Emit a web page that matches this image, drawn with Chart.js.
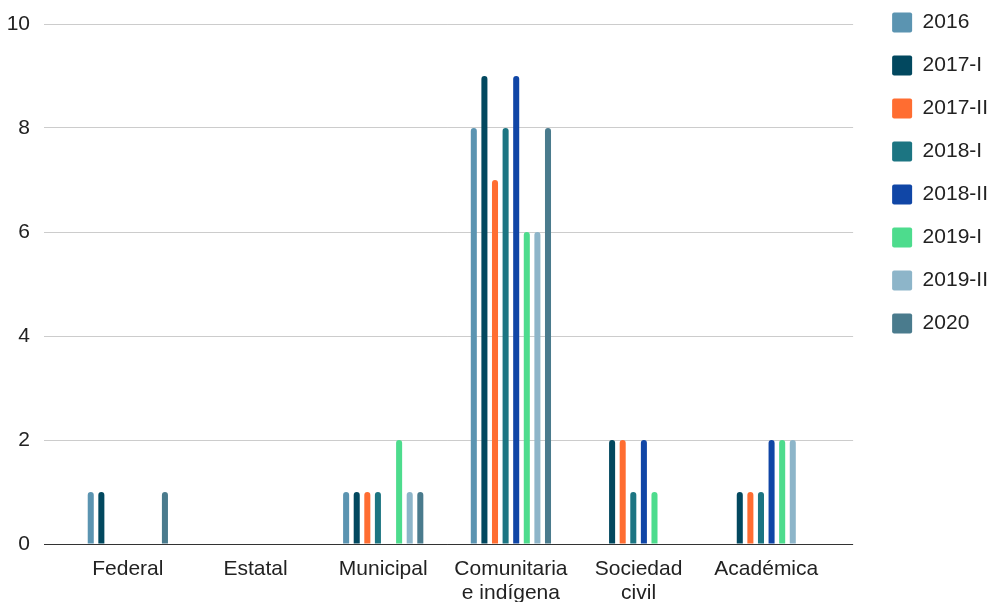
<!DOCTYPE html>
<html>
<head>
<meta charset="utf-8">
<script src="https://cdn.jsdelivr.net/npm/chart.js@4/dist/chart.umd.min.js"></script>
<style>
  html, body { margin: 0; padding: 0; background: #ffffff; }
  #wrap { width: 993px; height: 602px; position: relative; }
</style>
</head>
<body>
<div id="wrap"><canvas id="c"></canvas></div>
<script>
// Sector categories along the x axis
const categories = ['Federal', 'Estatal', 'Municipal', ['Comunitaria', 'e indígena'], ['Sociedad', 'civil'], 'Académica'];

// Series (periods) and their values per category
const seriesNames = ['2016', '2017-I', '2017-II', '2018-I', '2018-II', '2019-I', '2019-II', '2020'];
const v2016   = [1, 0, 1, 8, 0, 0];
const v2017I  = [1, 0, 1, 9, 2, 1];
const v2017II = [0, 0, 1, 7, 2, 1];
const v2018I  = [0, 0, 1, 8, 1, 1];
const v2018II = [0, 0, 0, 9, 2, 2];
const v2019I  = [0, 0, 2, 6, 1, 2];
const v2019II = [0, 0, 1, 6, 0, 2];
const v2020   = [1, 0, 1, 8, 0, 0];
const seriesValues = [v2016, v2017I, v2017II, v2018I, v2018II, v2019I, v2019II, v2020];

// Y axis ticks
const yTicks = [0, 2, 4, 6, 8, 10];

const colors = ['#5b94b1', '#02485f', '#ff6d31', '#1c7582', '#1046a6', '#4ddc8d', '#8db5c9', '#4a7b8d'];

const FONT = { family: '"Liberation Sans", Arial, sans-serif', size: 21 };
const X_FONT = { family: '"Liberation Sans", Arial, sans-serif', size: 21, lineHeight: 1.14 };

const datasets = seriesNames.map((name, i) => ({
  label: name,
  data: seriesValues[i],
  backgroundColor: colors[i],
  borderWidth: 0,
  borderRadius: 3,
  borderSkipped: 'start',
  categoryPercentage: 0.664,
  barPercentage: 0.57
}));

const gridColor = (ctx) => (ctx.tick && ctx.tick.value === 0 ? '#333333' : '#cccccc');

new Chart(document.getElementById('c'), {
  type: 'bar',
  data: { labels: categories, datasets },
  options: {
    responsive: true,
    maintainAspectRatio: false,
    animation: false,
    layout: { padding: { top: -10, right: -5, bottom: 0, left: 0 } },
    plugins: {
      tooltip: { enabled: false },
      legend: {
        position: 'right',
        align: 'start',
        labels: {
          font: FONT,
          color: '#222222',
          boxWidth: 20,
          boxHeight: 20,
          padding: 22,
          useBorderRadius: true,
          borderRadius: 2
        }
      }
    },
    scales: {
      x: {
        grid: { display: false },
        border: { display: false },
        afterFit: (scale) => { scale.height = 58; },
        ticks: { font: X_FONT, color: '#222222', padding: 5, maxRotation: 0, autoSkip: false }
      },
      y: {
        min: 0,
        max: 10,
        afterBuildTicks: (scale) => { scale.ticks = yTicks.map(v => ({ value: v })); },
        afterFit: (scale) => { scale.width = 64; scale.paddingTop = 24; },
        grid: { color: gridColor, lineWidth: 1, drawTicks: true, tickLength: 20 },
        border: { display: false },
        ticks: { font: FONT, color: '#222222', padding: 14 }
      },
      yRight: {
        position: 'right',
        min: 0,
        max: 10,
        afterBuildTicks: (scale) => { scale.ticks = yTicks.map(v => ({ value: v })); },
        afterFit: (scale) => { scale.width = 40; },
        grid: { color: gridColor, lineWidth: 1, drawOnChartArea: false, drawTicks: true, tickLength: 23 },
        border: { display: false },
        ticks: { display: false }
      }
    }
  }
});
</script>
</body>
</html>
